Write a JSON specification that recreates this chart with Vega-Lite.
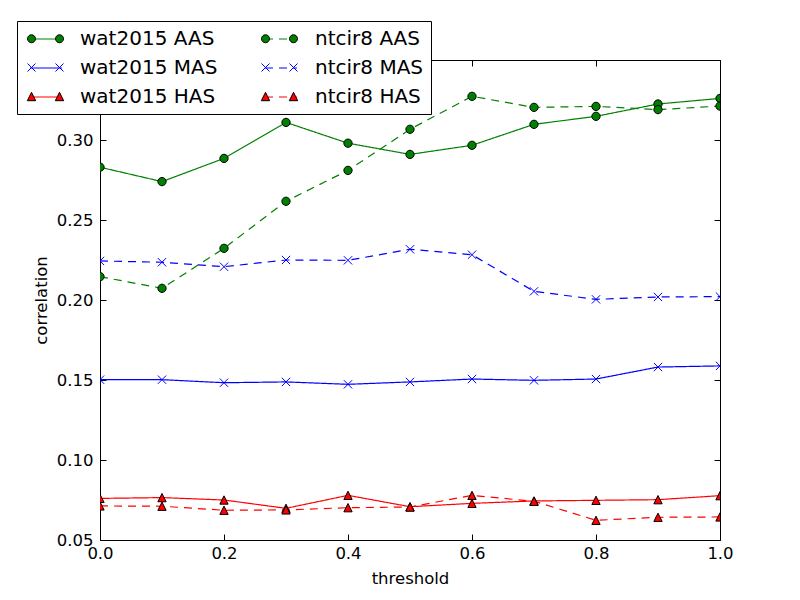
{
  "$schema": "https://vega.github.io/schema/vega-lite/v6.json",
  "width": 620,
  "height": 480,
  "autosize": {"type": "none"},
  "padding": {"left": 100, "top": 60, "right": 80, "bottom": 60},
  "background": "white",
  "data": {
    "values": [
      {"threshold": 0.0, "series": "wat2015 AAS", "correlation": 0.283},
      {"threshold": 0.1, "series": "wat2015 AAS", "correlation": 0.274},
      {"threshold": 0.2, "series": "wat2015 AAS", "correlation": 0.2885},
      {"threshold": 0.3, "series": "wat2015 AAS", "correlation": 0.311},
      {"threshold": 0.4, "series": "wat2015 AAS", "correlation": 0.298},
      {"threshold": 0.5, "series": "wat2015 AAS", "correlation": 0.291},
      {"threshold": 0.6, "series": "wat2015 AAS", "correlation": 0.2967},
      {"threshold": 0.7, "series": "wat2015 AAS", "correlation": 0.3098},
      {"threshold": 0.8, "series": "wat2015 AAS", "correlation": 0.3148},
      {"threshold": 0.9, "series": "wat2015 AAS", "correlation": 0.3225},
      {"threshold": 1.0, "series": "wat2015 AAS", "correlation": 0.326},
      {"threshold": 0.0, "series": "ntcir8 AAS", "correlation": 0.2146},
      {"threshold": 0.1, "series": "ntcir8 AAS", "correlation": 0.2073},
      {"threshold": 0.2, "series": "ntcir8 AAS", "correlation": 0.2323},
      {"threshold": 0.3, "series": "ntcir8 AAS", "correlation": 0.2617},
      {"threshold": 0.4, "series": "ntcir8 AAS", "correlation": 0.281},
      {"threshold": 0.5, "series": "ntcir8 AAS", "correlation": 0.3067},
      {"threshold": 0.6, "series": "ntcir8 AAS", "correlation": 0.3273},
      {"threshold": 0.7, "series": "ntcir8 AAS", "correlation": 0.3204},
      {"threshold": 0.8, "series": "ntcir8 AAS", "correlation": 0.321},
      {"threshold": 0.9, "series": "ntcir8 AAS", "correlation": 0.319},
      {"threshold": 1.0, "series": "ntcir8 AAS", "correlation": 0.3212},
      {"threshold": 0.0, "series": "wat2015 MAS", "correlation": 0.1502},
      {"threshold": 0.1, "series": "wat2015 MAS", "correlation": 0.1502},
      {"threshold": 0.2, "series": "wat2015 MAS", "correlation": 0.1483},
      {"threshold": 0.3, "series": "wat2015 MAS", "correlation": 0.1488},
      {"threshold": 0.4, "series": "wat2015 MAS", "correlation": 0.1473},
      {"threshold": 0.5, "series": "wat2015 MAS", "correlation": 0.1488},
      {"threshold": 0.6, "series": "wat2015 MAS", "correlation": 0.1506},
      {"threshold": 0.7, "series": "wat2015 MAS", "correlation": 0.1498},
      {"threshold": 0.8, "series": "wat2015 MAS", "correlation": 0.1506},
      {"threshold": 0.9, "series": "wat2015 MAS", "correlation": 0.1581},
      {"threshold": 1.0, "series": "wat2015 MAS", "correlation": 0.1588},
      {"threshold": 0.0, "series": "ntcir8 MAS", "correlation": 0.2244},
      {"threshold": 0.1, "series": "ntcir8 MAS", "correlation": 0.2236},
      {"threshold": 0.2, "series": "ntcir8 MAS", "correlation": 0.2208},
      {"threshold": 0.3, "series": "ntcir8 MAS", "correlation": 0.225},
      {"threshold": 0.4, "series": "ntcir8 MAS", "correlation": 0.2248},
      {"threshold": 0.5, "series": "ntcir8 MAS", "correlation": 0.2317},
      {"threshold": 0.6, "series": "ntcir8 MAS", "correlation": 0.2283},
      {"threshold": 0.7, "series": "ntcir8 MAS", "correlation": 0.2054},
      {"threshold": 0.8, "series": "ntcir8 MAS", "correlation": 0.2004},
      {"threshold": 0.9, "series": "ntcir8 MAS", "correlation": 0.2019},
      {"threshold": 1.0, "series": "ntcir8 MAS", "correlation": 0.2021},
      {"threshold": 0.0, "series": "wat2015 HAS", "correlation": 0.076},
      {"threshold": 0.1, "series": "wat2015 HAS", "correlation": 0.0765},
      {"threshold": 0.2, "series": "wat2015 HAS", "correlation": 0.075},
      {"threshold": 0.3, "series": "wat2015 HAS", "correlation": 0.0698},
      {"threshold": 0.4, "series": "wat2015 HAS", "correlation": 0.0779},
      {"threshold": 0.5, "series": "wat2015 HAS", "correlation": 0.0708},
      {"threshold": 0.6, "series": "wat2015 HAS", "correlation": 0.0729},
      {"threshold": 0.7, "series": "wat2015 HAS", "correlation": 0.0744},
      {"threshold": 0.8, "series": "wat2015 HAS", "correlation": 0.0748},
      {"threshold": 0.9, "series": "wat2015 HAS", "correlation": 0.0752},
      {"threshold": 1.0, "series": "wat2015 HAS", "correlation": 0.0777},
      {"threshold": 0.0, "series": "ntcir8 HAS", "correlation": 0.0713},
      {"threshold": 0.1, "series": "ntcir8 HAS", "correlation": 0.0711},
      {"threshold": 0.2, "series": "ntcir8 HAS", "correlation": 0.0686},
      {"threshold": 0.3, "series": "ntcir8 HAS", "correlation": 0.0688},
      {"threshold": 0.4, "series": "ntcir8 HAS", "correlation": 0.0702},
      {"threshold": 0.5, "series": "ntcir8 HAS", "correlation": 0.0706},
      {"threshold": 0.6, "series": "ntcir8 HAS", "correlation": 0.0779},
      {"threshold": 0.7, "series": "ntcir8 HAS", "correlation": 0.0742},
      {"threshold": 0.8, "series": "ntcir8 HAS", "correlation": 0.0623},
      {"threshold": 0.9, "series": "ntcir8 HAS", "correlation": 0.0642},
      {"threshold": 1.0, "series": "ntcir8 HAS", "correlation": 0.0644}
    ]
  },
  "layer": [
    {
      "mark": {"type": "line", "clip": true, "strokeWidth": 1.2},
      "encoding": {
        "x": {
          "field": "threshold", "type": "quantitative",
          "scale": {"domain": [0, 1], "nice": false, "zero": false},
          "axis": {"orient": "bottom", "offset": -6, "title": "threshold", "values": [0, 0.2, 0.4, 0.6, 0.8, 1.0], "format": ".1f", "labelPadding": 5, "titlePadding": 9}
        },
        "y": {
          "field": "correlation", "type": "quantitative",
          "scale": {"domain": [0.05, 0.35], "nice": false, "zero": false},
          "axis": {"orient": "left", "offset": -6, "title": "correlation", "values": [0.05, 0.1, 0.15, 0.2, 0.25, 0.3, 0.35], "format": ".2f", "labelPadding": 7, "titlePadding": 7}
        },
        "color": {
          "field": "series", "type": "nominal",
          "scale": {
            "domain": ["wat2015 AAS", "wat2015 MAS", "wat2015 HAS", "ntcir8 AAS", "ntcir8 MAS", "ntcir8 HAS"],
            "range": ["#008000", "#0000ff", "#ff0000", "#008000", "#0000ff", "#ff0000"]
          },
          "legend": {
            "orient": "none", "legendX": -83, "legendY": -39, "columns": 2, "title": null,
            "symbolType": "M-1.6,0L1.6,0", "symbolSize": 400, "symbolStrokeWidth": 1.2, "symbolOffset": 11,
            "labelFontSize": 20, "labelOffset": 23, "columnPadding": 41, "rowPadding": 8,
            "padding": 7, "fillColor": "white", "strokeColor": "black", "cornerRadius": 0,
            "encode": {
              "symbols": {
                "update": {
                  "stroke": {"signal": "indexof(datum.value, 'AAS') >= 0 ? '#008000' : indexof(datum.value, 'MAS') >= 0 ? '#0000ff' : '#ff0000'"},
                  "strokeOpacity": {"value": 1}
                }
              }
            }
          }
        },
        "strokeDash": {
          "field": "series", "type": "nominal",
          "scale": {
            "domain": ["wat2015 AAS", "wat2015 MAS", "wat2015 HAS", "ntcir8 AAS", "ntcir8 MAS", "ntcir8 HAS"],
            "range": [[1, 0], [1, 0], [1, 0], [8, 6], [8, 6], [8, 6]]
          }
        }
      }
    },
    {
      "mark": {"type": "point", "filled": true, "opacity": 1, "strokeWidth": 1, "size": 69, "clip": true},
      "encoding": {
        "x": {
          "field": "threshold", "type": "quantitative",
          "axis": {"orient": "top", "offset": -6, "title": null, "labels": false, "values": [0, 0.2, 0.4, 0.6, 0.8, 1.0]}
        },
        "y": {
          "field": "correlation", "type": "quantitative",
          "axis": {"orient": "right", "offset": -6, "title": null, "labels": false, "values": [0.05, 0.1, 0.15, 0.2, 0.25, 0.3, 0.35]}
        },
        "shape": {
          "field": "series", "type": "nominal", "legend": null,
          "scale": {
            "domain": ["wat2015 AAS", "wat2015 MAS", "wat2015 HAS", "ntcir8 AAS", "ntcir8 MAS", "ntcir8 HAS"],
            "range": ["M1,0A1,1,0,1,1,-1,0A1,1,0,1,1,1,0Z", "M-1,-1L1,1M-1,1L1,-1", "M0,-1L1,1L-1,1Z", "M1,0A1,1,0,1,1,-1,0A1,1,0,1,1,1,0Z", "M-1,-1L1,1M-1,1L1,-1", "M0,-1L1,1L-1,1Z"]
          }
        },
        "fill": {
          "field": "series", "type": "nominal", "legend": null,
          "scale": {
            "domain": ["wat2015 AAS", "wat2015 MAS", "wat2015 HAS", "ntcir8 AAS", "ntcir8 MAS", "ntcir8 HAS"],
            "range": ["#008000", "transparent", "#ff0000", "#008000", "transparent", "#ff0000"]
          }
        },
        "stroke": {
          "field": "series", "type": "nominal", "legend": null,
          "scale": {
            "domain": ["wat2015 AAS", "wat2015 MAS", "wat2015 HAS", "ntcir8 AAS", "ntcir8 MAS", "ntcir8 HAS"],
            "range": ["#000000", "#0000ff", "#000000", "#000000", "#0000ff", "#000000"]
          }
        }
      }
    },
    {
      "transform": [{"filter": "datum.correlation < 0"}],
      "mark": {"type": "point", "filled": true, "opacity": 1, "strokeWidth": 1},
      "encoding": {
        "shape": {
          "field": "series", "type": "nominal",
          "scale": {
            "domain": ["wat2015 AAS", "wat2015 MAS", "wat2015 HAS", "ntcir8 AAS", "ntcir8 MAS", "ntcir8 HAS"],
            "range": [
              "M-1,0A0.4,0.4,0,1,1,-1.8,0A0.4,0.4,0,1,1,-1,0ZM1.8,0A0.4,0.4,0,1,1,1,0A0.4,0.4,0,1,1,1.8,0Z",
              "M-1.8,-0.4L-1,0.4M-1.8,0.4L-1,-0.4M1,-0.4L1.8,0.4M1,0.4L1.8,-0.4",
              "M-1.4,-0.42L-0.98,0.42L-1.82,0.42ZM1.4,-0.42L1.82,0.42L0.98,0.42Z",
              "M-1,0A0.4,0.4,0,1,1,-1.8,0A0.4,0.4,0,1,1,-1,0ZM1.8,0A0.4,0.4,0,1,1,1,0A0.4,0.4,0,1,1,1.8,0Z",
              "M-1.8,-0.4L-1,0.4M-1.8,0.4L-1,-0.4M1,-0.4L1.8,0.4M1,0.4L1.8,-0.4",
              "M-1.4,-0.42L-0.98,0.42L-1.82,0.42ZM1.4,-0.42L1.82,0.42L0.98,0.42Z"
            ]
          },
          "legend": {
            "orient": "none", "legendX": -83, "legendY": -39, "columns": 2, "title": null,
            "symbolSize": 400, "symbolStrokeWidth": 1, "symbolOpacity": 1, "symbolOffset": 11,
            "labelFontSize": 20, "labelOffset": 23, "columnPadding": 41, "rowPadding": 8,
            "labelOpacity": 0, "padding": 7, "strokeColor": null, "fillColor": null,
            "encode": {
              "symbols": {
                "update": {
                  "stroke": {"signal": "indexof(datum.value, 'MAS') >= 0 ? '#0000ff' : '#000000'"},
                  "fill": {"signal": "indexof(datum.value, 'AAS') >= 0 ? '#008000' : indexof(datum.value, 'HAS') >= 0 ? '#ff0000' : 'transparent'"},
                  "fillOpacity": {"value": 1},
                  "strokeOpacity": {"value": 1}
                }
              }
            }
          }
        },
        "fill": {
          "field": "series", "type": "nominal",
          "scale": {
            "domain": ["wat2015 AAS", "wat2015 MAS", "wat2015 HAS", "ntcir8 AAS", "ntcir8 MAS", "ntcir8 HAS"],
            "range": ["#008000", "transparent", "#ff0000", "#008000", "transparent", "#ff0000"]
          }
        },
        "stroke": {
          "field": "series", "type": "nominal",
          "scale": {
            "domain": ["wat2015 AAS", "wat2015 MAS", "wat2015 HAS", "ntcir8 AAS", "ntcir8 MAS", "ntcir8 HAS"],
            "range": ["#000000", "#0000ff", "#000000", "#000000", "#0000ff", "#000000"]
          }
        }
      }
    }
  ],
  "resolve": {
    "scale": {"shape": "independent", "fill": "independent", "stroke": "independent"},
    "axis": {"x": "independent", "y": "independent"}
  },
  "config": {
    "font": "DejaVu Sans",
    "view": {"stroke": "black", "strokeWidth": 1},
    "axis": {
      "grid": false, "domain": false, "ticks": true, "tickSize": 6, "tickColor": "black", "labelFlush": false,
      "labelFont": "DejaVu Sans", "labelFontSize": 16.5, "labelColor": "black",
      "titleFont": "DejaVu Sans", "titleFontSize": 16.5, "titleFontWeight": "normal", "titleColor": "black"
    },
    "legend": {"labelFont": "DejaVu Sans", "labelColor": "black", "labelLimit": 300}
  }
}
